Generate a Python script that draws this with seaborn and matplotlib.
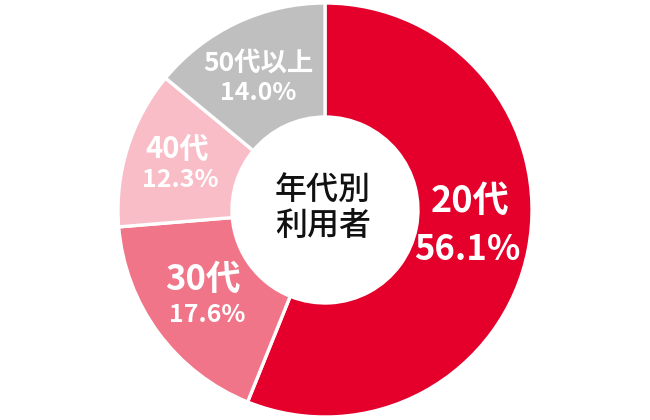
import matplotlib
matplotlib.use("Agg")
import matplotlib.pyplot as plt
import seaborn as sns
import numpy as np

# ---- data ----
categories = ["20代", "30代", "40代", "50代以上"]
shares = [56.1, 17.6, 12.3, 14.0]
colors = ["#E4002B", "#F07589", "#F8BDC6", "#BFBFBF"]
center_title = "年代別\n利用者"

# ---- layout (pixels, y from top) ----
W, H = 650, 420
CX, CY = 325, 210
R_OUT, R_IN = 207, 93
cat_pos = [(470, 201), (203, 279), (177, 149), (258, 63)]
pct_pos = [(467, 249), (207, 315), (180, 180), (258, 93)]
cat_size = [26, 25, 21, 19]
pct_size = [25, 18, 18, 18]

sns.set_theme(style="white")
plt.rcParams["font.family"] = ["Noto Sans CJK JP", "DejaVu Sans"]

fig = plt.figure(figsize=(W / 100, H / 100), dpi=100)
ax = fig.add_axes([0, 0, 1, 1])

ax.pie(shares, colors=colors, startangle=90, counterclock=False,
       center=(CX, H - CY), radius=R_OUT, frame=True,
       wedgeprops=dict(width=R_OUT - R_IN, edgecolor="white", linewidth=2.4))
ax.set_xlim(0, W)
ax.set_ylim(0, H)
ax.set_aspect("equal")
ax.axis("off")

for lab, val, (x1, y1), (x2, y2), s1, s2 in zip(categories, shares, cat_pos, pct_pos, cat_size, pct_size):
    ax.text(x1, H - y1, lab, ha="center", va="center", color="white",
            fontsize=s1, fontweight="bold")
    ax.text(x2, H - y2, f"{val:.1f}%", ha="center", va="center", color="white",
            fontsize=s2, fontweight="bold")

ax.text(CX - 2, H - 208, center_title, ha="center", va="center", color="#111111",
        fontsize=23, fontweight="medium", linespacing=1.15)

fig.savefig("out.png", dpi=100)
